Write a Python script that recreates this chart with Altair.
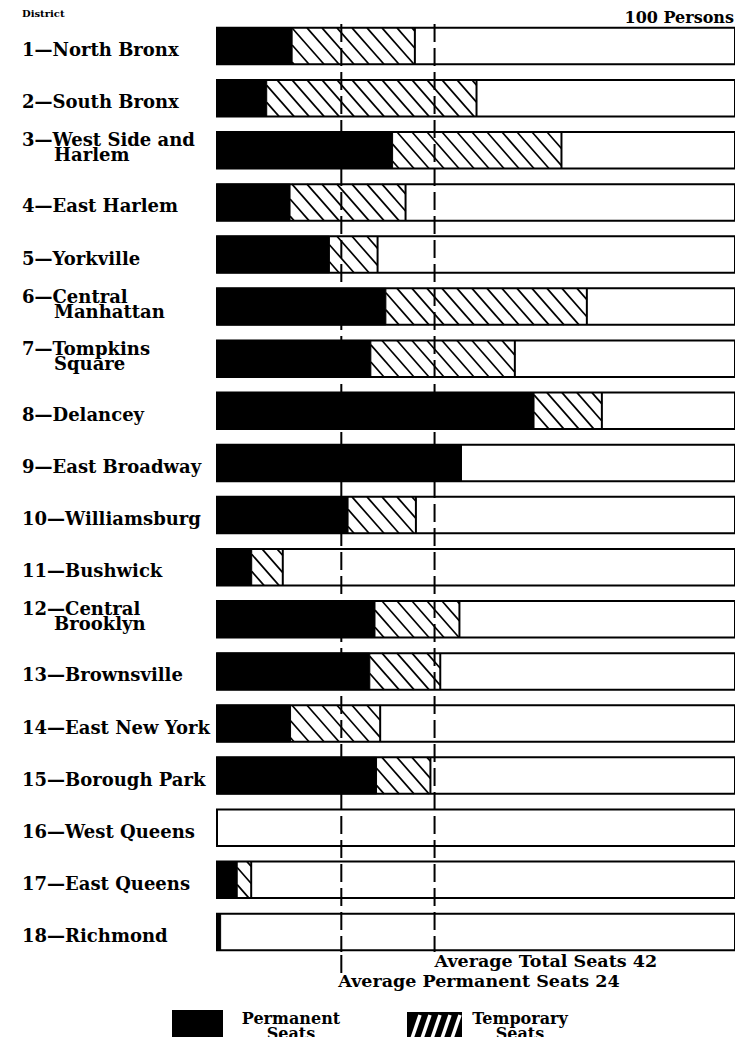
import altair as alt
import pandas as pd

# ---------------- data ----------------
numbers = list(range(1, 19))
name_line1 = ["North Bronx", "South Bronx", "West Side and", "East Harlem", "Yorkville",
              "Central", "Tompkins", "Delancey", "East Broadway", "Williamsburg",
              "Bushwick", "Central", "Brownsville", "East New York", "Borough Park",
              "West Queens", "East Queens", "Richmond"]
name_line2 = ["", "", "Harlem", "", "", "Manhattan", "Square", "", "", "",
              "", "Brooklyn", "", "", "", "", "", ""]
permanent = [14.5, 9.6, 33.9, 14.1, 21.7, 32.6, 29.7, 61.2, 47.2, 25.3,
             6.7, 30.5, 29.5, 14.2, 30.8, 0.0, 3.9, 0.7]
total = [38.2, 50.1, 66.5, 36.4, 31.0, 71.4, 57.5, 74.3, 47.2, 38.4,
         12.7, 46.8, 43.1, 31.5, 41.2, 0.0, 6.6, 0.7]
avg_permanent = 24
avg_total = 42
persons_scale = 100

# ---------------- layout / style ----------------
W, H = 518, 938
PAD = {"left": 209, "top": 12, "right": 0, "bottom": 79}
BAR_HALF = 0.35
FONT = "DejaVu Serif"
LABEL_X = -195
LINE2_X = -163
HATCH_SPACING_PX = 15
HATCH_RUN_PX = 32

rows = pd.DataFrame({
    "row": numbers,
    "line1": [f"{n}\u2014{t}" for n, t in zip(numbers, name_line1)],
    "line2": name_line2,
    "permanent": permanent,
    "total": total,
})
rows["top"] = rows["row"] - BAR_HALF
rows["bottom"] = rows["row"] + BAR_HALF
rows["zero"] = 0
rows["full"] = persons_scale

# hatch segments clipped to the temporary-seat span of each bar
px_per_x = W / persons_scale
s = HATCH_SPACING_PX / px_per_x
d = HATCH_RUN_PX / px_per_x
hatch = []
for r, lo, hi in zip(numbers, permanent, total):
    if hi - lo <= 0:
        continue
    k = int((lo - d) // s) - 1
    while k * s < hi:
        xt = k * s
        t0 = max(0.0, (lo - xt) / d)
        t1 = min(1.0, (hi - xt) / d)
        if t1 > t0:
            hatch.append({
                "hx1": xt + d * t0, "hx2": xt + d * t1,
                "hy1": r - BAR_HALF + 2 * BAR_HALF * t0,
                "hy2": r - BAR_HALF + 2 * BAR_HALF * t1,
            })
        k += 1
hatch_df = pd.DataFrame(hatch)

xs = alt.Scale(domain=[0, persons_scale], nice=False, zero=False)
ys = alt.Scale(domain=[0.5, 18.5], reverse=True, nice=False, zero=False)

box = alt.Chart(rows).mark_rect(fill="white", stroke="black", strokeWidth=2).encode(
    x=alt.X("zero:Q", scale=xs, axis=None), x2="full:Q",
    y=alt.Y("top:Q", scale=ys, axis=None), y2="bottom:Q")

perm = alt.Chart(rows).transform_filter("datum.permanent > 0").mark_rect(
    fill="black", stroke="black", strokeWidth=1).encode(
    x=alt.X("zero:Q", scale=xs, axis=None), x2="permanent:Q",
    y=alt.Y("top:Q", scale=ys, axis=None), y2="bottom:Q")

hatch_lines = alt.Chart(hatch_df).mark_rule(color="black", strokeWidth=1.7).encode(
    x=alt.X("hx1:Q", scale=xs, axis=None), x2="hx2:Q",
    y=alt.Y("hy1:Q", scale=ys, axis=None), y2="hy2:Q")

hatch_end = alt.Chart(rows).transform_filter("datum.total > datum.permanent").mark_rule(
    color="black", strokeWidth=2).encode(
    x=alt.X("total:Q", scale=xs, axis=None),
    y=alt.Y("top:Q", scale=ys, axis=None), y2="bottom:Q")

avg_df = pd.DataFrame({"value": [avg_permanent, avg_total]})
avg_rules = alt.Chart(avg_df).mark_rule(color="black", strokeWidth=2, strokeDash=[18, 6]).encode(
    x=alt.X("value:Q", scale=xs, axis=None), y=alt.value(4), y2=alt.value(932))

perm_tick = alt.Chart(pd.DataFrame({"value": [avg_permanent]})).mark_rule(
    color="black", strokeWidth=2).encode(
    x=alt.X("value:Q", scale=xs, axis=None), y=alt.value(935), y2=alt.value(953))

ann_df = pd.DataFrame({
    "value": [avg_total, avg_permanent],
    "text": [f"Average Total Seats {avg_total}", f"Average Permanent Seats {avg_permanent}"],
})
ann_total = alt.Chart(ann_df.iloc[[0]]).mark_text(
    align="left", baseline="middle", font=FONT, fontWeight="bold", fontSize=17.5).encode(
    x=alt.X("value:Q", scale=xs, axis=None), y=alt.value(942), text="text:N")
ann_perm = alt.Chart(ann_df.iloc[[1]]).mark_text(
    align="left", baseline="middle", dx=-3, font=FONT, fontWeight="bold", fontSize=17.5).encode(
    x=alt.X("value:Q", scale=xs, axis=None), y=alt.value(962), text="text:N")

lab_single = alt.Chart(rows).transform_filter("datum.line2 == ''").mark_text(
    align="left", baseline="alphabetic", dy=10, font=FONT, fontWeight="bold", fontSize=18).encode(
    x=alt.value(LABEL_X), y=alt.Y("row:Q", scale=ys, axis=None), text="line1:N")
lab_two_a = alt.Chart(rows).transform_filter("datum.line2 != ''").mark_text(
    align="left", baseline="alphabetic", dy=-4, font=FONT, fontWeight="bold", fontSize=18).encode(
    x=alt.value(LABEL_X), y=alt.Y("row:Q", scale=ys, axis=None), text="line1:N")
lab_two_b = alt.Chart(rows).transform_filter("datum.line2 != ''").mark_text(
    align="left", baseline="alphabetic", dy=11, font=FONT, fontWeight="bold", fontSize=18).encode(
    x=alt.value(LINE2_X), y=alt.Y("row:Q", scale=ys, axis=None), text="line2:N")

head_df = pd.DataFrame({"t": ["District", "100  Persons"]})
head_left = alt.Chart(head_df.iloc[[0]]).mark_text(
    align="left", baseline="middle", font=FONT, fontWeight="bold", fontSize=10).encode(
    x=alt.value(LABEL_X), y=alt.value(-6), text="t:N")
head_right = alt.Chart(head_df.iloc[[1]]).mark_text(
    align="right", baseline="middle", font=FONT, fontWeight="bold", fontSize=16).encode(
    x=alt.value(W - 1), y=alt.value(-2), text="t:N")

# custom legend
leg_perm_box = alt.Chart(pd.DataFrame({"k": [1]})).mark_rect(fill="black").encode(
    x=alt.value(-45), x2=alt.value(6), y=alt.value(990), y2=alt.value(1040))
leg_temp_box = alt.Chart(pd.DataFrame({"k": [1]})).mark_rect(fill="black").encode(
    x=alt.value(190), x2=alt.value(245), y=alt.value(992), y2=alt.value(1040))
leg_lines_df = pd.DataFrame({"i": [0, 1, 2, 3, 4]})
leg_temp_lines = alt.Chart(leg_lines_df).transform_calculate(
    xa="191 + datum.i * 10", xb="203 + datum.i * 10").mark_rule(
    color="white", strokeWidth=3.5).encode(
    x=alt.X("xa:Q", scale=None), x2="xb:Q", y=alt.value(1030), y2=alt.value(995))
leg_text_df = pd.DataFrame({
    "t": ["Permanent", "Seats", "Temporary", "Seats"],
    "xp": [74, 74, 303, 303],
    "yp": [999, 1014, 999, 1014],
})
leg_text = alt.Chart(leg_text_df).mark_text(
    align="center", baseline="middle", font=FONT, fontWeight="bold", fontSize=16).encode(
    x=alt.X("xp:Q", scale=None), y=alt.Y("yp:Q", scale=None), text="t:N")

chart = alt.layer(
    box, perm, hatch_lines, hatch_end, avg_rules, perm_tick, ann_total, ann_perm,
    lab_single, lab_two_a, lab_two_b, head_left, head_right,
    leg_perm_box, leg_temp_box, leg_temp_lines, leg_text,
).properties(
    width=W, height=H,
    autosize=alt.AutoSizeParams(type="none"),
    padding=PAD,
    background="white",
).configure_view(stroke=None)

chart.save("out.html", embed_options={"renderer": "svg", "actions": False})
